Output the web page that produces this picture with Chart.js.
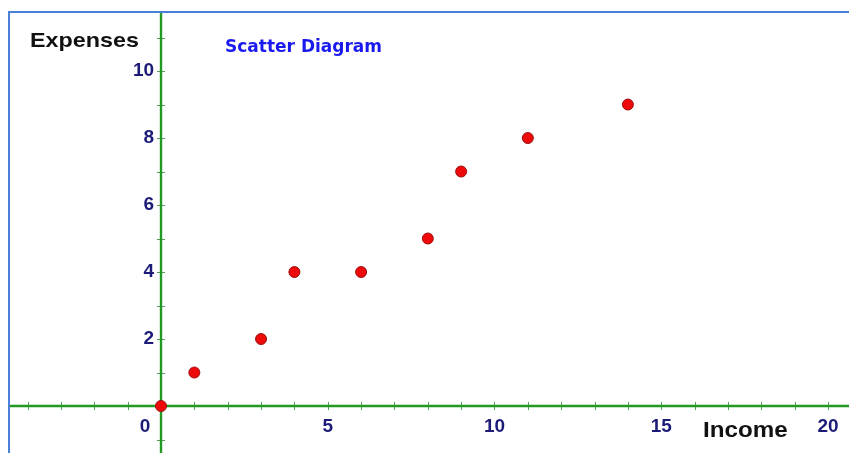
<!DOCTYPE html>
<html>
<head>
<meta charset="utf-8">
<script src="https://cdn.jsdelivr.net/npm/chart.js@4.4.1/dist/chart.umd.min.js"></script>
<style>
  html, body { margin:0; padding:0; background:#fff; overflow:hidden; }
  #wrap { position:absolute; left:0; top:0; width:849px; height:453px; }
</style>
</head>
<body>
<div id="wrap"><canvas id="scatter"></canvas></div>
<script>
// data
const income   = [0, 1, 3, 4, 6, 8, 9, 11, 14];
const expenses = [0, 1, 2, 4, 4, 5, 7, 8, 9];
const xLabels  = [0, 5, 10, 15, 20];
const yLabels  = [2, 4, 6, 8, 10];
const xTicks   = [-4, -3, -2, -1, 1, 2, 3, 4, 5, 6, 7, 8, 9, 10, 11, 12, 13, 14, 15, 16, 17, 18, 19, 20];
const yTicks   = [-1, 1, 2, 3, 4, 5, 6, 7, 8, 9, 10, 11];

const GREEN = '#229922';
const NAVY = '#1c1c78';

// stretched text, the picture's letters are a bit wider than Liberation
function wideText(ctx, txt, x, y, sx) {
    ctx.save();
    ctx.translate(x, y);
    ctx.scale(sx, 1);
    ctx.fillText(txt, 0, 0);
    ctx.restore();
}

// axes through the origin, drawn from the chart's own scales
const axesPlugin = {
    id: 'axesPlugin',
    beforeDatasetsDraw(chart) {
        const ctx = chart.ctx;
        const xs = chart.scales.x, ys = chart.scales.y;
        const x0 = xs.getPixelForValue(0), y0 = ys.getPixelForValue(0);
        const left = 9, top = 12;
        ctx.save();

        // frame
        ctx.strokeStyle = '#4a80d8';
        ctx.lineWidth = 2;
        ctx.beginPath();
        ctx.moveTo(left, chart.height + 5);
        ctx.lineTo(left, top);
        ctx.lineTo(chart.width + 5, top);
        ctx.stroke();

        // small ticks
        ctx.strokeStyle = '#5a9a5a';
        ctx.lineWidth = 1;
        ctx.beginPath();
        xTicks.forEach(v => {
            const p = Math.round(xs.getPixelForValue(v)) + 0.5;
            ctx.moveTo(p, y0 - 4); ctx.lineTo(p, y0 + 4);
        });
        yTicks.forEach(v => {
            const p = Math.round(ys.getPixelForValue(v)) + 0.5;
            ctx.moveTo(x0 - 4, p); ctx.lineTo(x0 + 4, p);
        });
        ctx.stroke();

        // axis lines
        ctx.strokeStyle = GREEN;
        ctx.lineWidth = 2.4;
        ctx.beginPath();
        ctx.moveTo(left + 1, y0); ctx.lineTo(chart.width, y0);
        ctx.moveTo(x0, top + 1); ctx.lineTo(x0, chart.height);
        ctx.stroke();

        // tick labels
        ctx.fillStyle = NAVY;
        ctx.font = 'bold 19px "Liberation Sans", Arial, sans-serif';
        ctx.textBaseline = 'middle';
        ctx.textAlign = 'center';
        xLabels.forEach(v => {
            const p = v === 0 ? x0 - 16 : xs.getPixelForValue(v);
            ctx.fillText(String(v), p, y0 + 21);
        });
        ctx.textAlign = 'right';
        yLabels.forEach(v => {
            ctx.fillText(String(v), x0 - 7, ys.getPixelForValue(v));
        });

        // axis titles
        ctx.fillStyle = '#111';
        ctx.font = 'bold 21px "Liberation Sans", Arial, sans-serif';
        ctx.textAlign = 'left';
        wideText(ctx, 'Expenses', 30, 41, 1.11);
        ctx.font = 'bold 22px "Liberation Sans", Arial, sans-serif';
        wideText(ctx, 'Income', 703, 431, 1.1);

        // title
        ctx.fillStyle = '#1a1aee';
        ctx.font = 'bold 17px "DejaVu Sans", Verdana, sans-serif';
        ctx.fillText('Scatter Diagram', 225, 48);
        ctx.restore();
    }
};

new Chart(document.getElementById('scatter'), {
    type: 'scatter',
    data: {
        datasets: [{
            data: income.map((v, i) => ({ x: v, y: expenses[i] })),
            backgroundColor: '#ee0a0a',
            borderColor: '#9a1010',
            borderWidth: 1,
            pointRadius: 5.5,
            pointHoverRadius: 5.5
        }]
    },
    options: {
        responsive: true,
        maintainAspectRatio: false,
        animation: false,
        events: [],
        layout: { padding: 0, autoPadding: false },
        plugins: { legend: { display: false }, tooltip: { enabled: false } },
        scales: {
            x: { type: 'linear', display: false, min: -4.828, max: 20.63 },
            y: { type: 'linear', display: false, min: -1.403, max: 12.12 }
        }
    },
    plugins: [axesPlugin]
});
</script>
</body>
</html>
